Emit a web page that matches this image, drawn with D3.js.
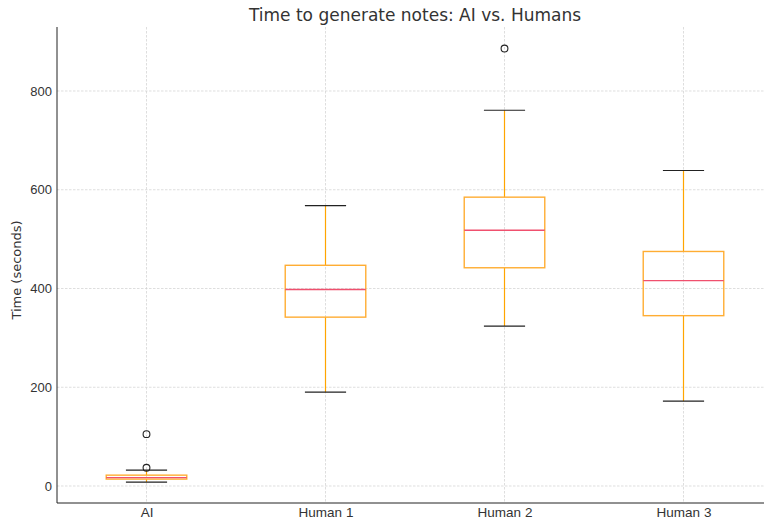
<!DOCTYPE html>
<html><head><meta charset="utf-8">
<script src="https://cdn.jsdelivr.net/npm/d3@7"></script>
<style>body{margin:0;background:#fff;} svg{display:block;font-family:"DejaVu Sans",sans-serif;}</style>
</head><body>
<script>
const categories = ["AI", "Human 1", "Human 2", "Human 3"];
const whiskerLow = [8, 190, 324, 172];
const q1 = [14, 342, 442, 345];
const medians = [17, 398, 518, 416];
const q3 = [22, 447, 585, 475];
const whiskerHigh = [32, 568, 761, 639];
const outliers = [[37, 105], [], [886], []];
const yTicks = [0, 200, 400, 600, 800];

(function () {
const W = 764, H = 520;
const padL = 57, padB = 503, padT = 27;
const unit = 179;
const svg = d3.select("body").append("svg").attr("width", W).attr("height", H);

const x = d3.scaleLinear().domain([0.5, 4.5]).range([padL, padL + 4 * unit]);
const y = d3.scaleLinear().domain([-34.4, 929.6]).range([padB, padT]);

// grid
const g = svg.append("g");
g.selectAll(".hg").data(yTicks).enter().append("line")
  .attr("x1", padL).attr("x2", W).attr("y1", d => y(d)).attr("y2", d => y(d))
  .attr("stroke", "#d0d0d0").attr("stroke-width", 0.7).attr("stroke-dasharray", "2.5,1.5");
g.selectAll(".vg").data(categories).enter().append("line")
  .attr("x1", (d, i) => x(i + 1)).attr("x2", (d, i) => x(i + 1)).attr("y1", padT).attr("y2", padB)
  .attr("stroke", "#d0d0d0").attr("stroke-width", 0.7).attr("stroke-dasharray", "2.5,1.5");

// axes
const yAxis = d3.axisLeft(y).tickValues(yTicks).tickSize(0).tickPadding(5);
const ya = svg.append("g").attr("transform", `translate(${padL},0)`).call(yAxis);
ya.select(".domain").attr("d", `M0,${padT}V${padB}`).attr("stroke", "#222").attr("stroke-width", 1);
ya.selectAll("text").attr("font-size", 13).attr("fill", "#333");

const xAxis = d3.axisBottom(x).tickValues([1, 2, 3, 4]).tickFormat((d) => categories[d - 1]).tickSize(0).tickPadding(4);
const xa = svg.append("g").attr("transform", `translate(0,${padB})`).call(xAxis);
xa.select(".domain").attr("d", `M${padL},0H${W}`).attr("stroke", "#222").attr("stroke-width", 1);
xa.selectAll("text").attr("font-size", 13.5).attr("fill", "#333");

// boxes
const bw = 0.45 * unit, cw = 0.23 * unit;
categories.forEach((c, i) => {
  const cx = x(i + 1);
  const bx = svg.append("g");
  bx.append("line").attr("x1", cx).attr("x2", cx).attr("y1", y(whiskerLow[i])).attr("y2", y(q1[i]))
    .attr("stroke", "#ffa500").attr("stroke-width", 1.2);
  bx.append("line").attr("x1", cx).attr("x2", cx).attr("y1", y(q3[i])).attr("y2", y(whiskerHigh[i]))
    .attr("stroke", "#ffa500").attr("stroke-width", 1.2);
  bx.append("rect").attr("x", cx - bw / 2).attr("width", bw)
    .attr("y", y(q3[i])).attr("height", y(q1[i]) - y(q3[i]))
    .attr("fill", "none").attr("stroke", "#ffad33").attr("stroke-width", 1.4);
  bx.append("line").attr("x1", cx - bw / 2).attr("x2", cx + bw / 2).attr("y1", y(medians[i])).attr("y2", y(medians[i]))
    .attr("stroke", "#f0506e").attr("stroke-width", 1.4);
  [whiskerLow[i], whiskerHigh[i]].forEach(v => {
    bx.append("line").attr("x1", cx - cw / 2).attr("x2", cx + cw / 2).attr("y1", y(v)).attr("y2", y(v))
      .attr("stroke", "#222").attr("stroke-width", 1.2);
  });
  bx.selectAll("circle").data(outliers[i]).enter().append("circle")
    .attr("cx", cx).attr("cy", d => y(d)).attr("r", 3.4)
    .attr("fill", "none").attr("stroke", "#222").attr("stroke-width", 1.1);
});

svg.append("text").attr("x", 415).attr("y", 21).attr("text-anchor", "middle")
  .attr("font-size", 17).attr("fill", "#333").text("Time to generate notes: AI vs. Humans");
svg.append("text").attr("transform", `translate(21,${(padT + padB) / 2 + 5}) rotate(-90)`)
  .attr("text-anchor", "middle").attr("font-size", 13).attr("fill", "#333").text("Time (seconds)");
})();
</script>
</body></html>
